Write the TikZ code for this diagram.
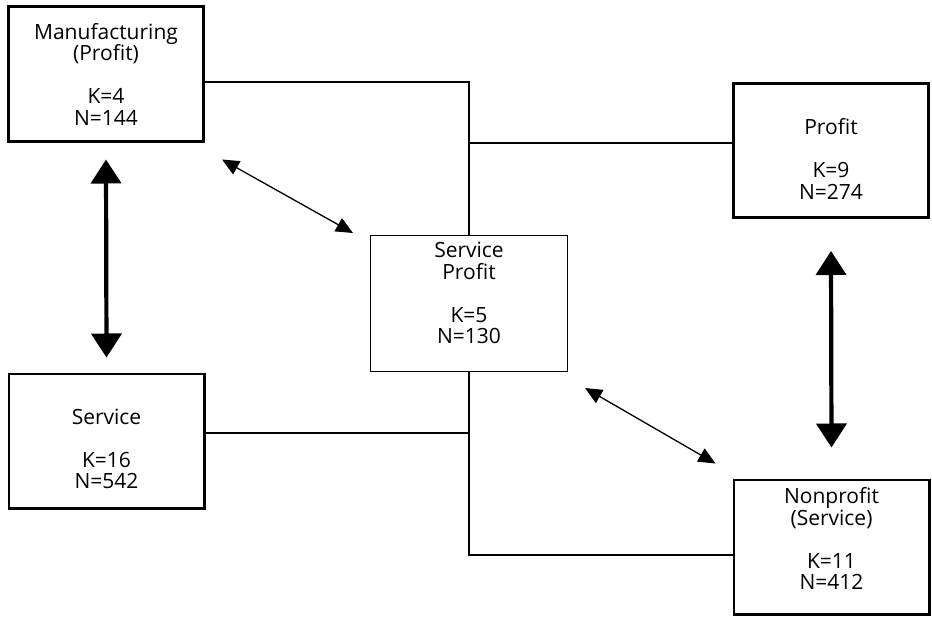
\documentclass[tikz,border=0pt]{standalone}
\usepackage{fontspec}
\setmainfont{Open Sans}
\usetikzlibrary{arrows.meta,calc}

% pad the first line (moves text down) or the last line (moves it up)
\newcommand{\padtop}[1]{\rule{0pt}{#1}}
\newcommand{\padbot}[1]{\rule[-#1]{0pt}{#1}}

\tikzset{
	catbox/.style={draw,line width=2.7pt,minimum width=195.3pt,minimum height=134.3pt,inner sep=0pt,align=center,font=\fontsize{21}{21.5}\selectfont},
	midbox/.style={catbox,line width=1.3pt,minimum width=196.7pt,minimum height=135.7pt},
	link/.style={line width=1.3pt},
	bigarrow/.style={line width=4.2pt,{Triangle[length=24pt,width=30pt]}-{Triangle[length=24pt,width=30pt]}},
	smallarrow/.style={line width=1.3pt,{Triangle[length=17pt,width=15pt]}-{Triangle[length=17pt,width=15pt]}}
}

\begin{document}
\begin{tikzpicture}[x=1pt,y=1pt,yscale=-1]
			\useasboundingbox (0,0) rectangle (932,618);
			
			% the five groups
			\node[catbox] (manu) at (106,74) {Manufacturing\\(Profit)\\[21.5pt]K=4\\N=144};
			\node[catbox] (prof) at (831,150.5) {\padtop{33pt}Profit\\[21.5pt]K=9\\N=274};
			\node[midbox] (sprof) at (469,303.5) {Service\\Profit\\[21.5pt]K=5\\N=130\padbot{21pt}};
			\node[catbox] (svc) at (106.5,441) {\padtop{31pt}Service\\[21.5pt]K=16\\N=542};
			\node[catbox] (nonp) at (831.5,547) {Nonprofit\\(Service)\\[21.5pt]K=11\\N=412\padbot{17pt}};
			
			% tree lines
			\coordinate (ttop) at (469,82);
			\coordinate (tprof) at (469,143);
			\coordinate (tsvc) at (469,433);
			\coordinate (tbot) at (469,555);
			\draw[link] (manu.east |- ttop) -- (ttop) -- (sprof.north);
			\draw[link] (tprof) -- (prof.west |- tprof);
			\draw[link] (svc.east |- tsvc) -- (tsvc);
			\draw[link] (sprof.south) -- (tbot) -- (nonp.west |- tbot);
			
			% arrows
			\draw[bigarrow] (manu.south) ++(0,17) -- ($(svc.north)+(0,-15)$);
			\draw[bigarrow] (prof.south) ++(0,32) -- ($(nonp.north)+(0,-31)$);
			\draw[smallarrow] ($(manu.south east)+(17,17)$) -- ($(sprof.north west)+(-17,-2)$);
			\draw[smallarrow] ($(sprof.south east)+(17,16)$) -- ($(nonp.north west)+(-17,-15)$);
\end{tikzpicture}
\end{document}
